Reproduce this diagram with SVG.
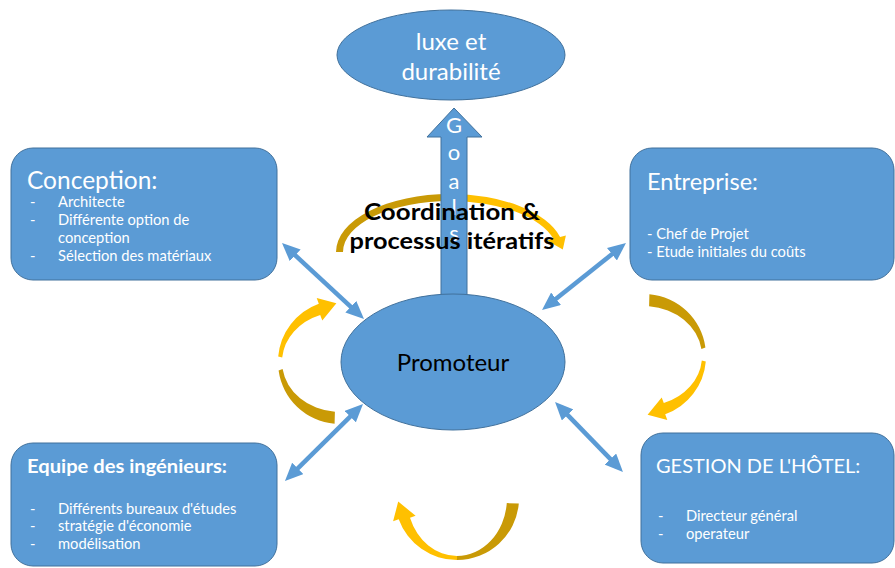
<svg xmlns="http://www.w3.org/2000/svg" xmlns:xlink="http://www.w3.org/1999/xlink" width="895" height="568" viewBox="0 0 895 568">
<style>
.shape{fill:#5B9BD5;stroke:#41719C;stroke-width:1}
.w{fill:#FFFFFF;font-family:Lato,"Open Sans","Liberation Sans",sans-serif}
.k{fill:#000000;font-family:Lato,"Open Sans","Liberation Sans",sans-serif}
.conn{stroke:#5B9BD5;stroke-width:4.5;fill:none;marker-start:url(#ah);marker-end:url(#ah)}
.light{fill:#FFC000}
.dark{fill:#C99A06}
.b{font-size:14.7px}
</style>
<defs>
<marker id="ah" markerUnits="userSpaceOnUse" markerWidth="18" markerHeight="16" viewBox="0 0 18 16" refX="6" refY="8" orient="auto-start-reverse">
<path d="M0,0 L18,8 L0,16 Z" fill="#5B9BD5"/>
</marker>
<g id="curvedArrow">
<path class="light" d="M278.2,356.6 A62,62 0 0 1 318.8,303.7 L316.7,298.1 L336.4,303.2 L322.3,320.6 L320.2,315 A58,50 0 0 0 282.2,357.6 Z"/>
<path class="dark" d="M278.6,370.6 A62,62 0 0 0 334.6,423.8 L334.9,411.8 A58,50 0 0 1 282.6,369 Z"/>
</g>
<g id="curvedArrowJoined">
<path class="light" d="M278,362 A62,62 0 0 1 318.8,303.7 L316.7,298.1 L336.4,303.2 L322.3,320.6 L320.2,315 A58,50 0 0 0 282,362 Z"/>
<path class="dark" d="M278,362 A62,62 0 0 0 334.6,423.8 L334.9,411.8 A58,50 0 0 1 282,362 Z"/>
</g>
</defs>
<rect width="895" height="568" fill="#FFFFFF"/>

<g id="cycle-arrows">
<g id="top-arc">
<path class="dark" d="M336,252 A114,58 0 0 1 450,194 L450,201 A107,51 0 0 0 343,252 Z"/>
<path class="light" d="M450,194 A114,58 0 0 1 560.1,237 L565.9,235.4 L562.8,249.5 L546.6,240.3 L553.4,238.8 A107,51 0 0 0 450,201 Z"/>
</g>
<use id="left-arc" xlink:href="#curvedArrow"/>
<use id="right-arc" xlink:href="#curvedArrow" transform="translate(644,356) rotate(180) translate(-340,-362)"/>
<use id="bottom-arc" xlink:href="#curvedArrowJoined" transform="translate(457,498) rotate(-90) translate(-340,-362)"/>
</g>

<g id="goals">
<polygon class="shape" points="454,108 482,137 467,137 467,300 441,300 441,137 427,137"/>
<g class="w" font-size="22" text-anchor="middle">
<text x="454" y="133">G</text>
<text x="454" y="160">o</text>
<text x="454" y="189">a</text>
<text x="454" y="215">l</text>
<text x="454" y="241">s</text>
</g>
</g>

<g id="connectors">
<line class="conn" x1="290.8" y1="251.2" x2="355.2" y2="310.8"/>
<line class="conn" x1="616.6" y1="250.5" x2="551.4" y2="302.5"/>
<line class="conn" x1="293.5" y1="472.6" x2="354.5" y2="412.4"/>
<line class="conn" x1="563.4" y1="410.6" x2="614.6" y2="463.4"/>
</g>

<g id="luxe">
<ellipse class="shape" cx="451" cy="55" rx="114" ry="45"/>
<text class="w" x="451" y="50" font-size="24" text-anchor="middle">luxe et</text>
<text class="w" x="451" y="80" font-size="24" text-anchor="middle">durabilité</text>
</g>

<g id="promoteur">
<ellipse class="shape" cx="453" cy="362" rx="112" ry="68"/>
<text class="k" x="453" y="371" font-size="24" text-anchor="middle">Promoteur</text>
</g>

<g id="coordination">
<text class="k" x="452" y="220" font-size="23" font-weight="bold" text-anchor="middle" textLength="176" lengthAdjust="spacingAndGlyphs">Coordination &amp;</text>
<text class="k" x="452" y="249" font-size="23" font-weight="bold" text-anchor="middle" textLength="205" lengthAdjust="spacingAndGlyphs">processus itératifs</text>
</g>

<g id="conception">
<rect class="shape" x="11" y="148" width="266" height="132" rx="22"/>
<text class="w" x="27" y="189" font-size="24.5">Conception:</text>
<g class="w b">
<text x="30" y="207">-</text><text x="58" y="207">Architecte</text>
<text x="30" y="225">-</text><text x="58" y="225">Différente option de</text>
<text x="58" y="243">conception</text>
<text x="30" y="261">-</text><text x="58" y="261">Sélection des matériaux</text>
</g>
</g>

<g id="entreprise">
<rect class="shape" x="630" y="148" width="264" height="132" rx="22"/>
<text class="w" x="647" y="190" font-size="23.5">Entreprise:</text>
<g class="w b">
<text x="647" y="239">- Chef de Projet</text>
<text x="647" y="257">- Etude initiales du coûts</text>
</g>
</g>

<g id="equipe">
<rect class="shape" x="11" y="443" width="266" height="123" rx="22"/>
<text class="w" x="27" y="473" font-size="18.5" font-weight="bold" textLength="200" lengthAdjust="spacingAndGlyphs">Equipe des ingénieurs:</text>
<g class="w b">
<text x="30" y="514">-</text><text x="58" y="514">Différents bureaux d'études</text>
<text x="30" y="531">-</text><text x="58" y="531">stratégie d'économie</text>
<text x="30" y="549">-</text><text x="58" y="549">modélisation</text>
</g>
</g>

<g id="gestion">
<rect class="shape" x="641" y="433" width="253" height="130" rx="22"/>
<text class="w" x="656" y="473" font-size="20">GESTION DE L'HÔTEL:</text>
<g class="w b">
<text x="658" y="521">-</text><text x="686" y="521">Directeur général</text>
<text x="658" y="539">-</text><text x="686" y="539">operateur</text>
</g>
</g>
</svg>
